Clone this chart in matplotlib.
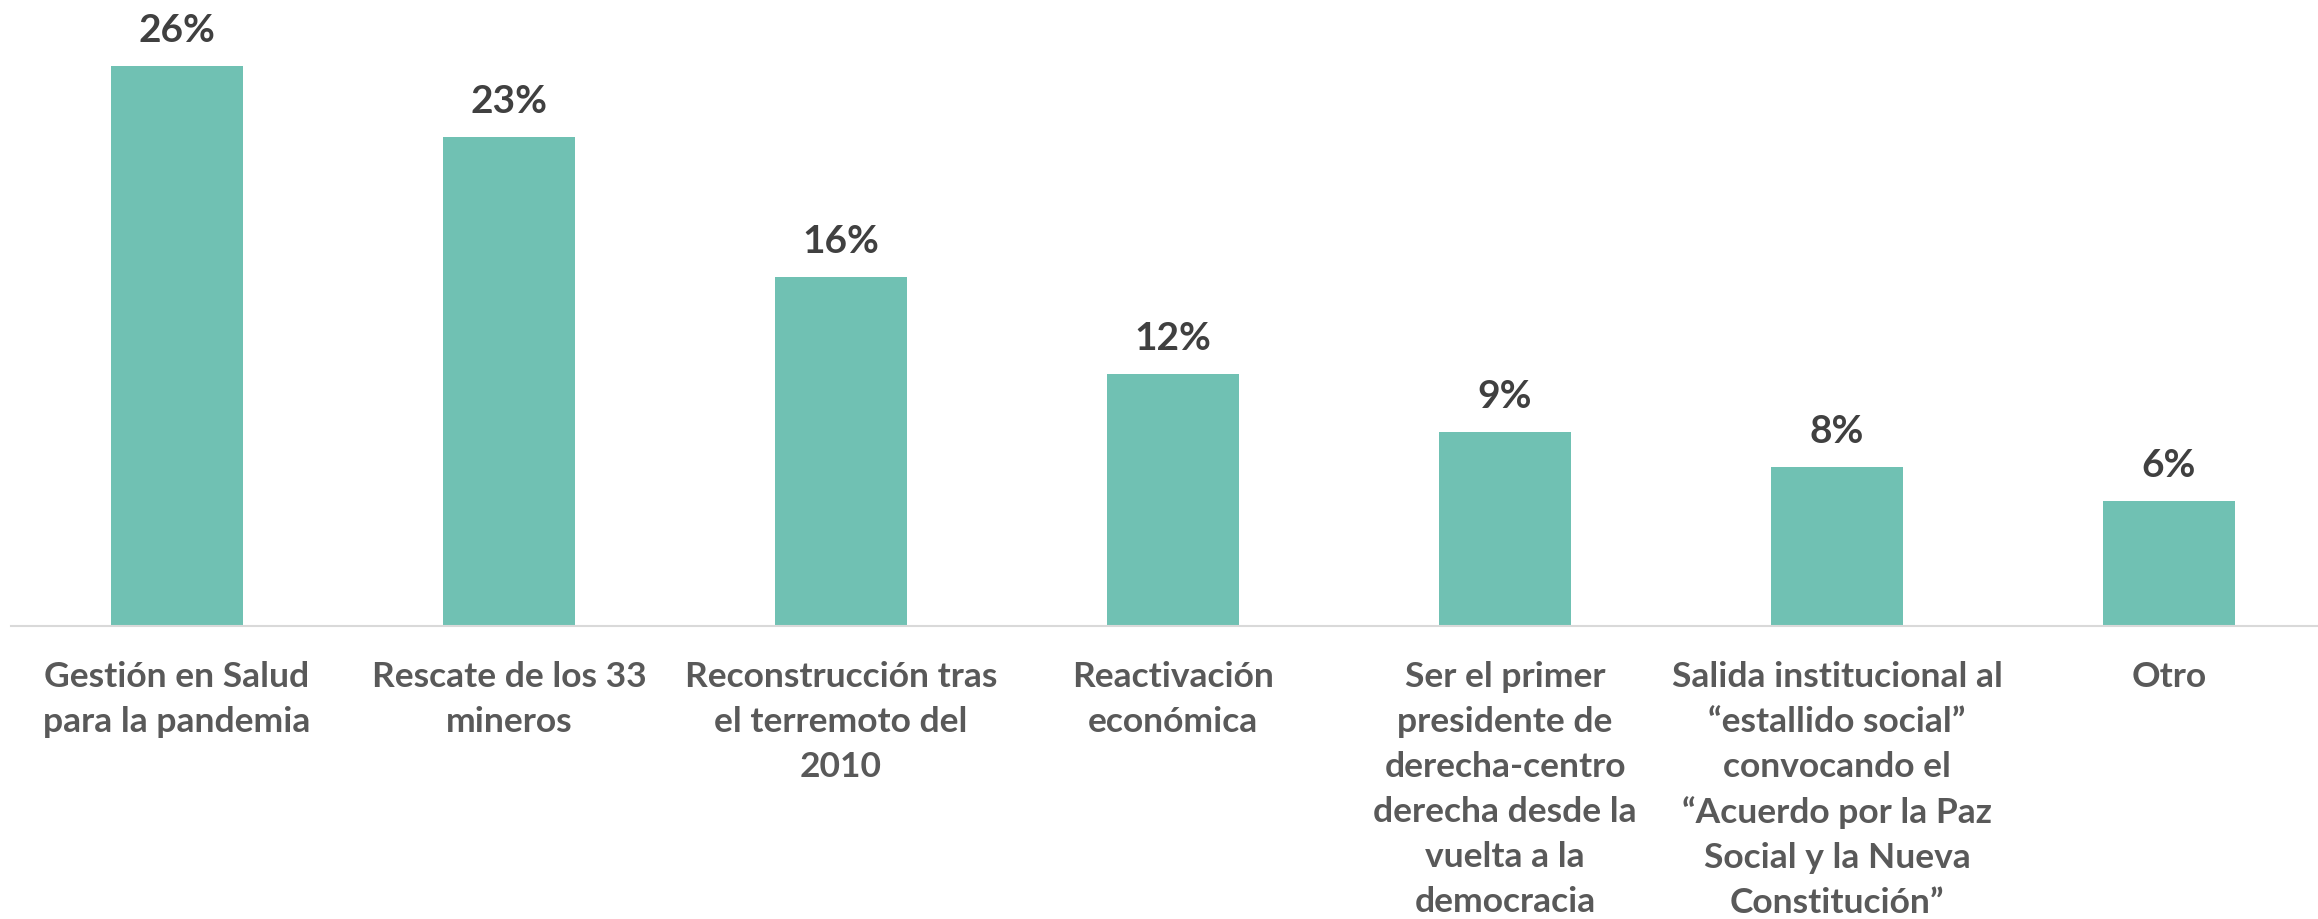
import matplotlib
matplotlib.use("Agg")
import matplotlib.pyplot as plt

# Data
categories = [
    "Gestión en Salud\npara la pandemia",
    "Rescate de los 33\nmineros",
    "Reconstrucción tras\nel terremoto del\n2010",
    "Reactivación\neconómica",
    "Ser el primer\npresidente de\nderecha-centro\nderecha desde la\nvuelta a la\ndemocracia",
    "Salida institucional al\n“estallido social”\nconvocando el\n“Acuerdo por la Paz\nSocial y la Nueva\nConstitución”",
    "Otro",
]
values = [26.0, 22.7, 16.2, 11.7, 9.0, 7.4, 5.8]
value_labels = ["26%", "23%", "16%", "12%", "9%", "8%", "6%"]

BAR_COLOR = "#70C1B3"
LABEL_COLOR = "#404040"
TICK_COLOR = "#595959"

plt.rcParams["font.family"] = ["Lato", "DejaVu Sans"]

W, H = 2318, 919
fig = plt.figure(figsize=(W / 100, H / 100), dpi=100, facecolor="white")

# plot area: baseline at y=626px, one category slot = 332px
slot = 332
left = 11 / W
bottom = (H - 626) / H
ymax = 30
ax = fig.add_axes([left, bottom, 7 * slot / W, ymax * 21.54 / H])

x = range(len(categories))
bars = ax.bar(x, values, width=0.40, color=BAR_COLOR, zorder=2)

ax.set_xlim(-0.5, len(categories) - 0.5)
ax.set_ylim(0, ymax)

for rect, lab in zip(bars, value_labels):
    ax.annotate(
        lab,
        (rect.get_x() + rect.get_width() / 2, rect.get_height()),
        xytext=(0, 13),
        textcoords="offset points",
        ha="center",
        va="bottom",
        fontsize=28,
        fontweight="bold",
        color=LABEL_COLOR,
    )

ax.set_xticks(list(x))
ax.set_xticklabels(categories, fontsize=25.5, fontweight="bold", color=TICK_COLOR, linespacing=1.5)
ax.tick_params(axis="x", length=0, pad=25)
ax.set_yticks([])

for side in ["top", "right", "left"]:
    ax.spines[side].set_visible(False)
ax.spines["bottom"].set_color("#D9D9D9")
ax.spines["bottom"].set_linewidth(1.5)

fig.savefig("out.png", dpi=100, facecolor="white")
